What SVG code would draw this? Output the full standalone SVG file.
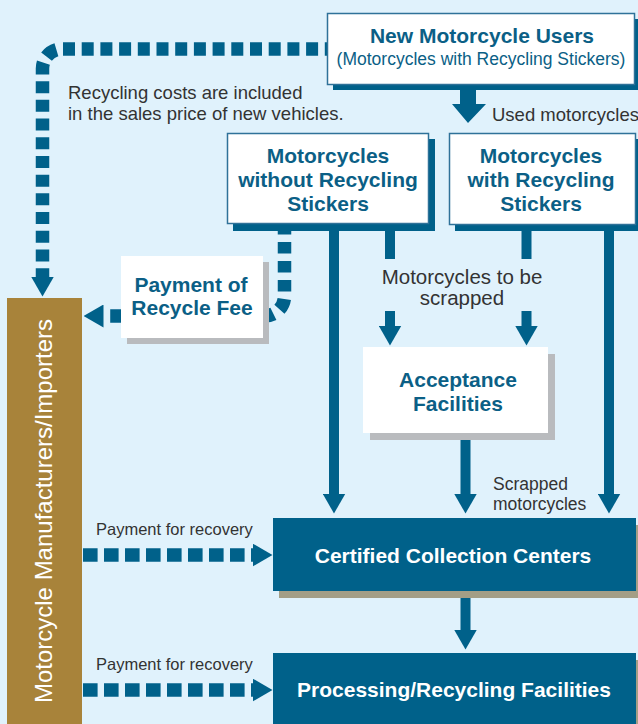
<svg xmlns="http://www.w3.org/2000/svg" width="638" height="724" viewBox="0 0 638 724">
  <style>
    .bg { fill: #e0f2fc; }
    .solid { fill: none; stroke: #00618a; stroke-width: 10; }
    .dash { fill: none; stroke: #00618a; stroke-width: 13.5; }
    .box { fill: #ffffff; stroke: #2f7299; stroke-width: 1.5; }
    .plain { fill: #ffffff; }
    .shadow-blue { fill: #00618a; }
    .shadow-gray { fill: #b9bbbe; }
    .shadow-tan { fill: #a39e86; }
    .dark { fill: #00618a; }
    .title { font-family: "Liberation Sans", Arial, sans-serif; font-weight: bold; font-size: 21px; fill: #0b5f86; text-anchor: middle; }
    .sub { font-family: "Liberation Sans", Arial, sans-serif; font-size: 17.5px; fill: #0b5f86; text-anchor: middle; }
    .white { font-family: "Liberation Sans", Arial, sans-serif; font-weight: bold; font-size: 21px; fill: #ffffff; text-anchor: middle; }
    .label { font-family: "Liberation Sans", Arial, sans-serif; font-size: 18.5px; fill: #333333; }
    .small { font-family: "Liberation Sans", Arial, sans-serif; font-size: 16.5px; fill: #333333; }
  </style>
  <defs>
    <marker id="head" markerUnits="userSpaceOnUse" markerWidth="20" markerHeight="23" viewBox="0 0 20 23" refX="0.5" refY="11.5" orient="auto">
      <path d="M0,0 L20,11.5 L0,23 Z" fill="#00618a"/>
    </marker>
  </defs>

  <rect class="bg" x="0" y="0" width="638" height="724"/>

  <g id="connectors">
    <!-- dashed: new users -> manufacturers -->
    <path class="dash" d="M327 49 H62 A19.5 19.5 0 0 0 42.5 68.5 V277" stroke-dasharray="12 6.7" stroke-dashoffset="9.8" marker-end="url(#head)"/>
    <!-- dashed: without stickers -> manufacturers (payment of recycle fee) -->
    <path class="dash" d="M284.5 231 V296 A20 20 0 0 1 264.5 316 H103" stroke-dasharray="11.5 7.5" stroke-dashoffset="8" marker-end="url(#head)"/>
    <!-- dashed: payment for recovery -->
    <path class="dash" d="M83 555 H253" stroke-dasharray="14.6 6.4" marker-end="url(#head)"/>
    <path class="dash" d="M83 690 H253" stroke-dasharray="14.6 6.4" marker-end="url(#head)"/>
    <!-- big arrow: new users -> used motorcycles -->
    <polygon class="dark" points="460,88 476,88 476,104 486,104 468,123 452,104 460,104"/>
    <!-- solid lines -->
    <path class="solid" d="M334 229 V494" marker-end="url(#head)"/>
    <path class="solid" d="M390 229 V259"/>
    <path class="solid" d="M390 311 V326" marker-end="url(#head)"/>
    <path class="solid" d="M526.5 229 V259"/>
    <path class="solid" d="M526.5 311 V326" marker-end="url(#head)"/>
    <path class="solid" d="M609 229 V494" marker-end="url(#head)"/>
    <path class="solid" d="M465.5 438 V494" marker-end="url(#head)"/>
    <path class="solid" d="M465.5 596 V630" marker-end="url(#head)"/>
    <!-- connector labels -->
    <text class="label" x="68" y="99">Recycling costs are included</text>
    <text class="label" x="68" y="120">in the sales price of new vehicles.</text>
    <text class="label" x="492" y="121">Used motorcycles</text>
    <text class="label" x="462" y="284" text-anchor="middle" style="font-size:20.5px">Motorcycles to be</text>
    <text class="label" x="462" y="305" text-anchor="middle" style="font-size:20.5px">scrapped</text>
    <text class="label" x="493" y="490" style="font-size:17.5px">Scrapped</text>
    <text class="label" x="493" y="510" style="font-size:17.5px">motorcycles</text>
    <text class="small" x="96" y="535">Payment for recovery</text>
    <text class="small" x="96" y="670">Payment for recovery</text>
  </g>

  <g id="new-users">
    <rect class="shadow-blue" x="333" y="19" width="308" height="71"/>
    <rect class="box" x="327.5" y="13.5" width="307" height="71"/>
    <text class="title" x="482" y="43">New Motorcycle Users</text>
    <text class="sub" x="481" y="65">(Motorcycles with Recycling Stickers)</text>
  </g>

  <g id="without-stickers">
    <rect class="shadow-blue" x="233" y="139" width="202" height="92"/>
    <rect class="box" x="227.5" y="133.5" width="201" height="90"/>
    <text class="title" x="328" y="163">Motorcycles</text>
    <text class="title" x="328" y="187">without Recycling</text>
    <text class="title" x="328" y="211">Stickers</text>
  </g>

  <g id="with-stickers">
    <rect class="shadow-blue" x="455" y="139" width="190" height="92"/>
    <rect class="box" x="449.5" y="133.5" width="186" height="91"/>
    <text class="title" x="541" y="163">Motorcycles</text>
    <text class="title" x="541" y="187">with Recycling</text>
    <text class="title" x="541" y="211">Stickers</text>
  </g>

  <g id="payment-recycle-fee">
    <rect class="shadow-gray" x="127" y="262" width="142" height="82"/>
    <rect class="plain" x="121" y="256" width="142" height="82"/>
    <text class="title" x="191" y="292">Payment of</text>
    <text class="title" x="192" y="315">Recycle Fee</text>
  </g>

  <g id="acceptance-facilities">
    <rect class="shadow-gray" x="370" y="354" width="185" height="86"/>
    <rect class="plain" x="363" y="347" width="185" height="86"/>
    <text class="title" x="458" y="387">Acceptance</text>
    <text class="title" x="458" y="411">Facilities</text>
  </g>

  <g id="manufacturers">
    <rect x="7" y="298" width="75" height="430" fill="#a8833a"/>
    <text transform="translate(52,511) rotate(-90)" text-anchor="middle" style="font-family:'Liberation Sans', Arial, sans-serif; font-size:24px; fill:#ffffff">Motorcycle Manufacturers/Importers</text>
  </g>

  <g id="collection-centers">
    <rect class="shadow-tan" x="279" y="525" width="365" height="73"/>
    <rect class="dark" x="273" y="518" width="363" height="73"/>
    <text class="white" x="453" y="563">Certified Collection Centers</text>
  </g>

  <g id="processing-facilities">
    <rect class="shadow-tan" x="279" y="660" width="365" height="80"/>
    <rect class="dark" x="273" y="653" width="363" height="80"/>
    <text class="white" x="454" y="697">Processing/Recycling Facilities</text>
  </g>
</svg>
